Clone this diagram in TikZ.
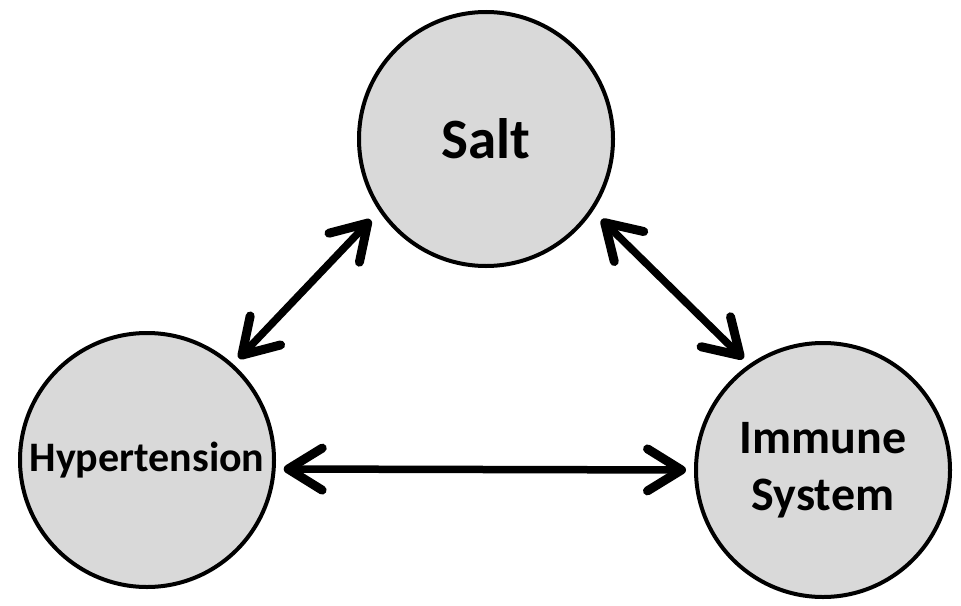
\documentclass[tikz,border=0pt]{standalone}
\usepackage{fontspec}
\setmainfont{Carlito}
\usetikzlibrary{arrows.meta}
\definecolor{bubblefill}{HTML}{D9D9D9}
\tikzset{
  barb/.tip={Straight Barb[length=34pt,width=42pt,round,line width=9pt]}
}
\begin{document}
\begin{tikzpicture}[x=1pt,y=-1pt,
  bubble/.style={circle, draw=black, line width=4pt, fill=bubblefill,
    minimum size=254pt, inner sep=0pt, align=center},
  link/.style={line width=7.5pt, barb-barb}]
  \useasboundingbox (0,0) rectangle (961,605);
  \node[bubble, font=\bfseries\fontsize{57}{68}\selectfont] (salt) at (486,139) {Salt};
  \node[bubble, font=\bfseries\fontsize{42}{50}\selectfont] (hyp) at (147,460) {Hypertension};
  \node[bubble, font=\bfseries\fontsize{48}{57}\selectfont] (imm) at (823,470) {Immune\\System};
  \draw[link, shorten <=8pt, shorten >=12pt] (hyp.48) -- (salt.214);
  \draw[link, shorten <=12pt, shorten >=8pt] (salt.-34) -- (imm.125);
  \draw[link, shorten <=8pt, shorten >=8pt] (hyp.-4.4) -- (imm.west);
\end{tikzpicture}
\end{document}
